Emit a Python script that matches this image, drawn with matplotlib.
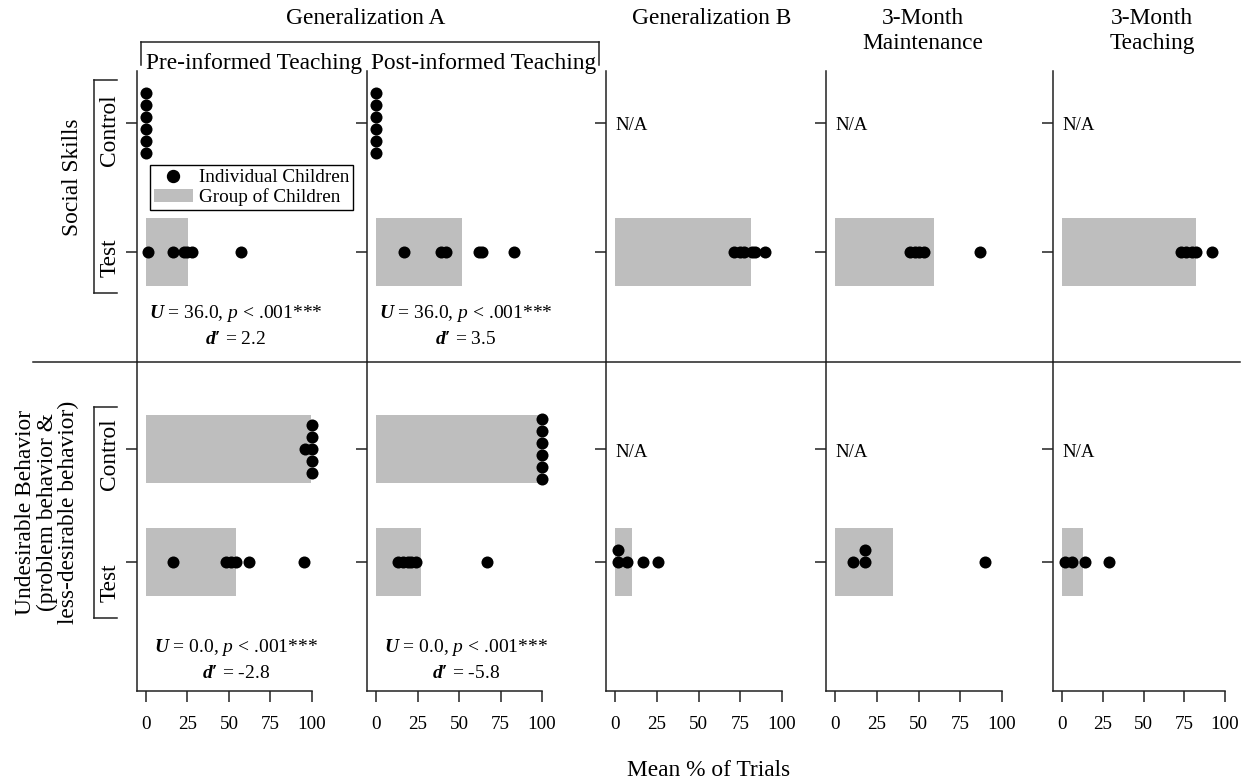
import numpy as np
import matplotlib.pyplot as plt
from matplotlib.lines import Line2D
from matplotlib.patches import Patch
from matplotlib.transforms import blended_transform_factory

plt.rcParams['font.family'] = ['Liberation Serif', 'DejaVu Serif']
plt.rcParams['mathtext.fontset'] = 'custom'
plt.rcParams['mathtext.rm'] = 'Liberation Serif'
plt.rcParams['mathtext.it'] = 'Liberation Serif:italic'
plt.rcParams['mathtext.bf'] = 'Liberation Serif:bold'
plt.rcParams['mathtext.bfit'] = 'Liberation Serif:bold:italic'

# --- data (mean % of trials) ---
headers = ['Generalization A', 'Generalization B', '3-Month\nMaintenance', '3-Month\nTeaching']
sub_titles = ['Pre-informed Teaching', 'Post-informed Teaching']
row_labels = ['Social Skills', 'Undesirable Behavior\n(problem behavior &\nless-desirable behavior)']
groups = ['Control', 'Test']
x_ticks = [0, 25, 50, 75, 100]

# social skills: per panel (pre, post, gen B, 3m maint, 3m teach)
ss_control = [[0, 0, 0, 0, 0, 0], [0, 0, 0, 0, 0, 0], None, None, None]
ss_test = [[1, 16, 23, 25, 28, 57], [17, 39, 42, 62, 64, 83],
           [71, 75, 77, 82, 84, 90], [45, 48, 50, 53, 87], [73, 76, 80, 82, 92]]
ss_control_mean = [0, 0, None, None, None]
ss_test_mean = [25.5, 52, 81.5, 59.3, 82.5]

# undesirable behavior
ub_control = [[96, 100, 100, 100, 100, 100], [100, 100, 100, 100, 100, 100], None, None, None]
ub_test = [[16, 48, 51, 54, 62, 95], [13, 16, 19, 21, 24, 67],
           [2, 2, 7, 17, 26], [11, 18, 18, 90], [2, 6, 14, 29]]
ub_control_mean = [99.5, 100, None, None, None]
ub_test_mean = [54.5, 27, 10, 34.5, 12.8]

stat_U = [['36.0', '36.0'], ['0.0', '0.0']]
stat_d = [['2.2', '3.5'], ['-2.8', '-5.8']]

controls = [ss_control, ub_control]
tests = [ss_test, ub_test]
control_means = [ss_control_mean, ub_control_mean]
test_means = [ss_test_mean, ub_test_mean]

# --- layout (figure pixels) ---
W, H = 1255, 784
zero_px = [146, 376, 615, 835, 1062]
hund_px = [312, 542, 782, 1002, 1225]
row_px = [(71, 362), (362, 691)]
tick_px = [(123, 252), (449, 562)]
bar_px = 68
dot_px = 12
gray = '#bebebe'
line_col = '#222222'


def fx(px):
    return px / W


def fy(py):
    return 1 - py / H


def stack_offsets(vals):
    # identical values are stacked vertically
    vals = np.asarray(vals)
    off = np.zeros(len(vals))
    for v in np.unique(vals):
        idx = np.where(vals == v)[0]
        n = len(idx)
        off[idx] = np.arange(n) - ((n - 1) / 2 if n > 2 else 0)
    return off


fig = plt.figure(figsize=(W / 100, H / 100), dpi=100)

for r in range(2):
    top, bot = row_px[r]
    tc, tt = tick_px[r]
    k = tt - tc
    for c in range(5):
        s = (hund_px[c] - zero_px[c]) / 100
        xl, xr = -9 / s, 110
        left = zero_px[c] - 9
        ax = fig.add_axes([fx(left), fy(bot), (xr - xl) * s / W, (bot - top) / H])
        ax.set_xlim(xl, xr)
        ax.set_ylim(-(bot - tt) / k, 1 + (tc - top) / k)
        ax.patch.set_visible(False)
        for sp in ['top', 'right']:
            ax.spines[sp].set_visible(False)
        ax.spines['left'].set_color(line_col)
        ax.spines['left'].set_linewidth(1.1)
        ax.set_yticks([1, 0])
        ax.set_yticklabels([])
        ax.tick_params(axis='y', length=8, width=1.1, color=line_col)
        if r == 0:
            ax.spines['bottom'].set_visible(False)
            ax.set_xticks([])
        else:
            ax.spines['bottom'].set_bounds(xl, 100)
            ax.spines['bottom'].set_color(line_col)
            ax.spines['bottom'].set_linewidth(1.1)
            ax.set_xticks(x_ticks)
            ax.tick_params(axis='x', length=8, width=1.1, color=line_col,
                           labelsize=13.8, pad=10)

        # test row
        ax.barh(0, test_means[r][c], height=bar_px / k, left=0, color=gray, zorder=1)
        vals = tests[r][c]
        ax.scatter(vals, stack_offsets(vals) * dot_px / k, s=75, color='black',
                   zorder=3, clip_on=False, linewidths=0)
        # control row
        if controls[r][c] is None:
            ax.text(0, 1 - 3 / k, 'N/A', ha='left', va='center', fontsize=13.5)
        else:
            ax.barh(1, control_means[r][c], height=bar_px / k, left=0, color=gray, zorder=1)
            vals = controls[r][c]
            ax.scatter(vals, 1 + stack_offsets(vals) * dot_px / k, s=75, color='black',
                       zorder=3, clip_on=False, linewidths=0)

        if c < 2:
            tr = blended_transform_factory(ax.transData, fig.transFigure)
            y1 = [313, 648][r]
            ax.text(54, fy(y1), r'$\mathbfit{U}$ = ' + stat_U[r][c] + r', $\mathit{p}$ < .001***',
                    transform=tr, ha='center', va='center', fontsize=14)
            ax.text(54, fy(y1 + 26), r'$\mathbfit{d}\mathbf{\prime}$ = ' + stat_d[r][c],
                    transform=tr, ha='center', va='center', fontsize=14)
            if r == 0:
                ax.text(65, fy(64), sub_titles[c], transform=tr, ha='center', va='center',
                        fontsize=16.8)

        if r == 0 and c == 0:
            handles = [Line2D([], [], marker='o', color='black', linestyle='none', markersize=8.6),
                       Patch(facecolor=gray, edgecolor='none')]
            leg = ax.legend(handles, ['Individual Children', 'Group of Children'],
                            loc='upper left', bbox_to_anchor=(fx(150), fy(165)),
                            bbox_transform=fig.transFigure, borderaxespad=0,
                            fontsize=13.8, frameon=True, fancybox=False, framealpha=1,
                            edgecolor='black', handlelength=2.05, handletextpad=0.3,
                            borderpad=0.2, labelspacing=0.1)
            leg.get_frame().set_linewidth(1.0)

# column headers
header_x = [366, 712, 923, 1152]
for h, x in zip(headers, header_x):
    fig.text(fx(x), fy(8), h, ha='center', va='top', fontsize=16.8, linespacing=1.25)

# bracket over Generalization A
for xs, ys in [([141, 599], [42, 42]), ([141, 141], [42, 65]), ([599, 599], [42, 65])]:
    fig.add_artist(Line2D([fx(v) for v in xs], [fy(v) for v in ys], color=line_col, lw=1.1))

# row separator
fig.add_artist(Line2D([fx(33), fx(1240)], [fy(362), fy(362)], color=line_col, lw=1.1))

# row labels and group brackets
row_lab_pos = [(73, 177), (47, 512)]
bracket_px = [(80, 293), (407, 618)]
group_lab_y = [(130, 258), (454, 583)]
for r in range(2):
    fig.text(fx(row_lab_pos[r][0]), fy(row_lab_pos[r][1]), row_labels[r], rotation=90,
             ha='center', va='center', fontsize=16.8, linespacing=1.05)
    b0, b1 = bracket_px[r]
    for xs, ys in [([94, 94], [b0, b1]), ([94, 117], [b0, b0]), ([94, 117], [b1, b1])]:
        fig.add_artist(Line2D([fx(v) for v in xs], [fy(v) for v in ys], color=line_col, lw=1.1))
    for g, gy in zip(groups, group_lab_y[r]):
        fig.text(fx(110), fy(gy), g, rotation=90, ha='center', va='center', fontsize=16.8)

fig.text(fx(709), fy(770), 'Mean % of Trials', ha='center', va='center', fontsize=16.8)

fig.savefig('out.png', dpi=100)
